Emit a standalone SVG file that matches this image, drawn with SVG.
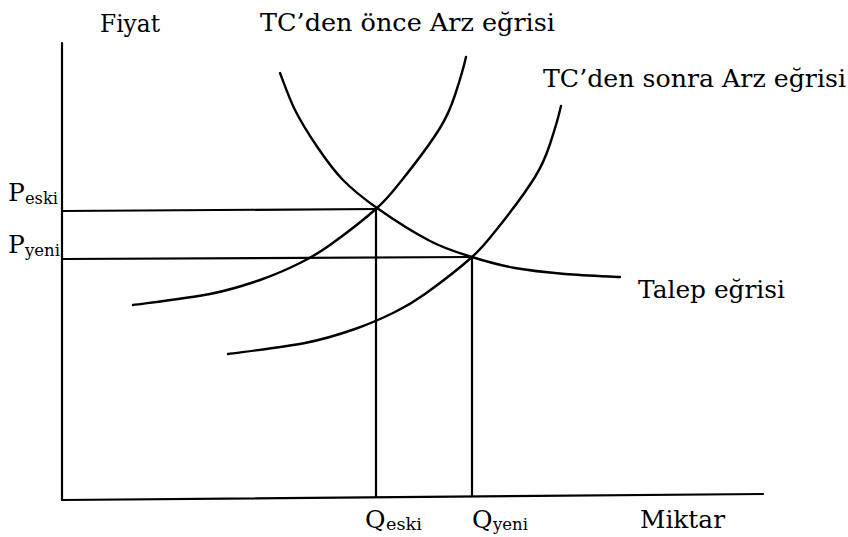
<svg xmlns="http://www.w3.org/2000/svg" width="848" height="537" viewBox="0 0 848 537">
<style>
  .ln { fill: none; stroke: #000; stroke-width: 2.2; stroke-linecap: round; }
  .cv { fill: none; stroke: #000; stroke-width: 2.4; stroke-linecap: round; stroke-linejoin: round; }
  text { font-family: 'DejaVu Serif', 'Liberation Serif', 'Times New Roman', Times, serif; fill: #000; }
  .t { font-size: 25px; }
  .s { font-size: 16px; }
</style>
<rect width="848" height="537" fill="#fff"/>
<defs>
  <path id="supply" d="M133,305 C145.8,303.2 188.8,298.2 210,294 C231.2,289.8 245,285.2 260,280 C275,274.8 288.3,268.8 300,263 C311.7,257.2 317.2,254.2 330,245 C342.8,235.8 365,218.8 377,208 C389,197.2 393,191 402,180 C414,165 431.2,142.2 440,128 C448.8,113.8 451.5,105.5 455,95 C459.3,82 464.2,65 466,57"/>
</defs>
<g id="axes">
  <line class="ln" x1="62" y1="43" x2="62" y2="500"/>
  <line class="ln" x1="62" y1="500" x2="763" y2="494"/>
</g>
<g id="connectors">
  <line class="ln" x1="62" y1="211" x2="377" y2="209"/>
  <line class="ln" x1="62" y1="259" x2="472" y2="257"/>
  <line class="ln" x1="376" y1="209" x2="376" y2="497"/>
  <line class="ln" x1="472" y1="257" x2="472" y2="495"/>
</g>
<g id="demand-curve">
  <path class="cv" d="M280,73 C282.5,79.2 288.7,97.5 295,110 C301.3,122.5 310,136.3 318,148 C326,159.7 333.2,170 343,180 C352.8,190 362.5,197.8 377,208 C391.5,218.2 414.2,232.8 430,241 C445.8,249.2 457.8,252.5 472,257 C486.2,261.5 499.5,265.2 515,268 C530.5,270.8 547.5,272.5 565,274 C582.5,275.5 610.8,276.5 620,277"/>
</g>
<g id="supply-before">
  <use href="#supply" class="cv"/>
</g>
<g id="supply-after">
  <use href="#supply" class="cv" transform="translate(95,49)"/>
</g>
<g id="labels">
  <text class="t" x="100" y="32" textLength="60" lengthAdjust="spacingAndGlyphs">Fiyat</text>
  <text class="t" x="260" y="31" textLength="295" lengthAdjust="spacingAndGlyphs">TC’den önce Arz eğrisi</text>
  <text class="t" x="543" y="87" textLength="303" lengthAdjust="spacingAndGlyphs">TC’den sonra Arz eğrisi</text>
  <text class="t" x="638" y="298" textLength="147" lengthAdjust="spacingAndGlyphs">Talep eğrisi</text>
  <text class="t" x="640" y="528" textLength="85" lengthAdjust="spacingAndGlyphs">Miktar</text>
  <text x="8" y="201"><tspan class="t">P</tspan><tspan class="s" x="25" y="204" textLength="33" lengthAdjust="spacingAndGlyphs">eski</tspan></text>
  <text x="8" y="253"><tspan class="t">P</tspan><tspan class="s" x="25" y="256" textLength="35" lengthAdjust="spacingAndGlyphs">yeni</tspan></text>
  <text x="365" y="528"><tspan class="t">Q</tspan><tspan class="s" x="386" y="530" textLength="36" lengthAdjust="spacingAndGlyphs">eski</tspan></text>
  <text x="472" y="528"><tspan class="t">Q</tspan><tspan class="s" x="493" y="530" textLength="35" lengthAdjust="spacingAndGlyphs">yeni</tspan></text>
</g>
</svg>
